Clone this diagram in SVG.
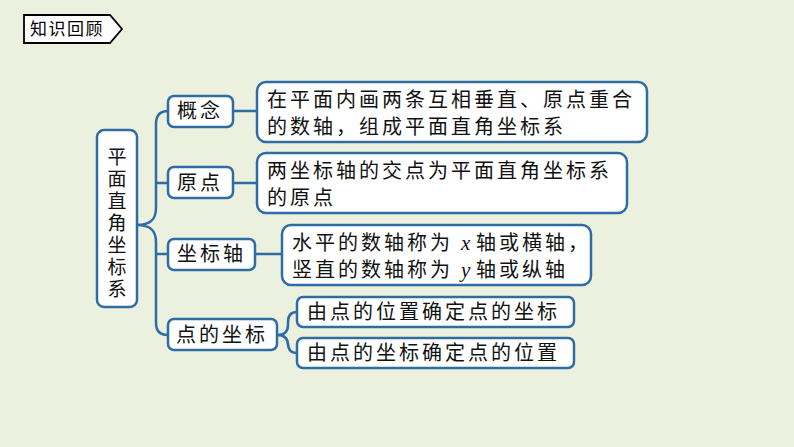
<svg xmlns="http://www.w3.org/2000/svg" width="794" height="447" viewBox="0 0 794 447">
<style>
.bg{fill:#EBF1DE}
.box{fill:#FFFFFF;stroke:#2E6DA4;stroke-width:2.5}
.ln{fill:none;stroke:#2E6DA4;stroke-width:2.5}
.t{font-family:"Noto Sans CJK SC","Noto Sans CJK TC",sans-serif;font-size:20px;fill:#111111;letter-spacing:3px}
.v{font-family:"Noto Sans CJK SC","Noto Sans CJK TC",sans-serif;font-size:19px;fill:#111111;letter-spacing:3px;writing-mode:vertical-rl}
.it{font-family:"Liberation Serif",serif;font-style:italic;font-size:21px;fill:#111111}
</style>
<rect class="bg" x="0" y="0" width="794" height="447"/>
<g id="title">
<path d="M24,15 H110 L122,29 L110,43 H24 Z" fill="#FFFFFF" stroke="#000000" stroke-width="1.8"/>
<text x="30" y="35" style="font-family:'Noto Sans CJK SC',sans-serif;font-size:17px;fill:#000;letter-spacing:1.5px">知识回顾</text>
</g>
<g id="connectors">
<path class="ln" d="M137,225 C150,225 156,220 156,208 V124 Q156,111 168,111"/>
<path class="ln" d="M137,225 C150,225 156,230 156,242 V323 Q156,335 168,335"/>
<path class="ln" d="M156,183 H168"/>
<path class="ln" d="M156,254 H168"/>
<path class="ln" d="M233,111 H257"/>
<path class="ln" d="M233,183 H257"/>
<path class="ln" d="M255,254 H282"/>
<path class="ln" d="M277,335 Q288,335 288,325 V322 Q288,312 297,312"/>
<path class="ln" d="M277,335 Q288,335 288,345 V343 Q288,353 297,353"/>
</g>
<g id="root">
<rect class="box" x="97" y="130" width="40" height="177" rx="7"/>
<text class="v" x="117" y="147">平面直角坐标系</text>
</g>
<g id="n1">
<rect class="box" x="168" y="96" width="65" height="31" rx="6"/>
<text class="t" x="177" y="118">概念</text>
</g>
<g id="n2">
<rect class="box" x="168" y="167" width="65" height="31" rx="6"/>
<text class="t" x="177" y="190">原点</text>
</g>
<g id="n3">
<rect class="box" x="168" y="239" width="87" height="31" rx="6"/>
<text class="t" x="177" y="261">坐标轴</text>
</g>
<g id="n4">
<rect class="box" x="168" y="319" width="109" height="31" rx="6"/>
<text class="t" x="176" y="342">点的坐标</text>
</g>
<g id="d1">
<rect class="box" x="257" y="82" width="390" height="60" rx="9"/>
<text class="t" x="267" y="107">在平面内画两条互相垂直、原点重合</text>
<text class="t" x="267" y="134">的数轴，组成平面直角坐标系</text>
</g>
<g id="d2">
<rect class="box" x="257" y="153" width="370" height="60" rx="9"/>
<text class="t" x="267" y="178">两坐标轴的交点为平面直角坐标系</text>
<text class="t" x="267" y="205">的原点</text>
</g>
<g id="d3">
<rect class="box" x="282" y="225" width="309" height="60" rx="9"/>
<text class="t" x="292" y="250">水平的数轴称为</text>
<text class="it" x="461" y="250">x</text>
<text class="t" x="476" y="250">轴或横轴，</text>
<text class="t" x="292" y="277">竖直的数轴称为</text>
<text class="it" x="461" y="277">y</text>
<text class="t" x="476" y="277">轴或纵轴</text>
</g>
<g id="d4">
<rect class="box" x="297" y="297" width="277" height="30" rx="6"/>
<text class="t" x="307" y="319">由点的位置确定点的坐标</text>
</g>
<g id="d5">
<rect class="box" x="297" y="338" width="277" height="30" rx="6"/>
<text class="t" x="307" y="360">由点的坐标确定点的位置</text>
</g>
</svg>
